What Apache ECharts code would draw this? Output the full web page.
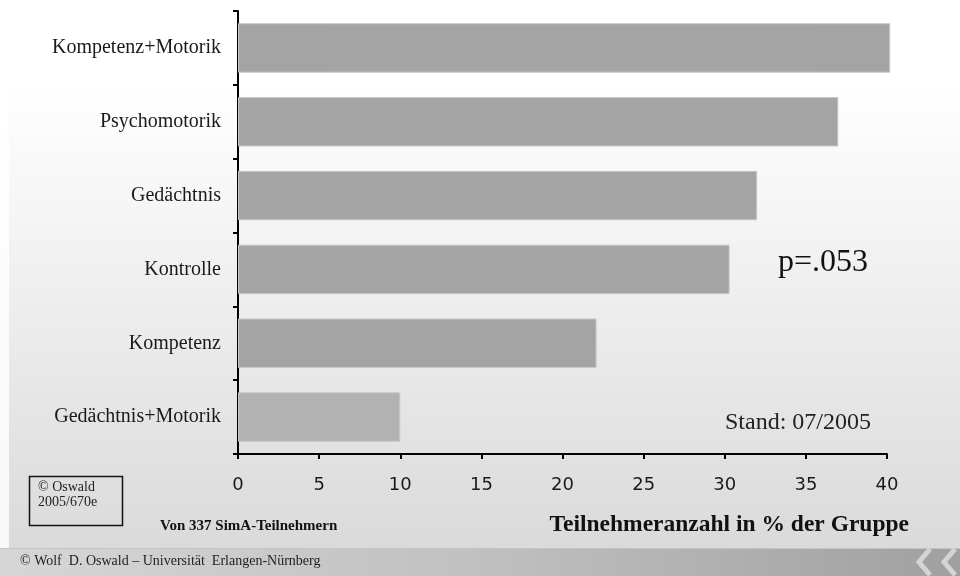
<!DOCTYPE html>
<html>
<head>
<meta charset="utf-8">
<script src="https://cdn.jsdelivr.net/npm/echarts@6/dist/echarts.min.js"></script>
<style>
  html, body { margin: 0; padding: 0; background: #fff; }
  #chart { width: 960px; height: 576px; }
</style>
</head>
<body>
<div id="chart"></div>
<script>
// Study groups (top to bottom) and share of participants per group, in %
const groups = ['Kompetenz+Motorik', 'Psychomotorik', 'Gedächtnis', 'Kontrolle', 'Kompetenz', 'Gedächtnis+Motorik'];
const shares = [40.2, 37.0, 32.0, 30.3, 22.1, 10.0];
const barColors = ['#a4a4a4', '#a4a4a4', '#a4a4a4', '#a4a4a4', '#a4a4a4', '#b2b2b2'];
const xTicks = [0, 5, 10, 15, 20, 25, 30, 35, 40];

const serif = '"Liberation Serif", "DejaVu Serif", serif';

const chart = echarts.init(document.getElementById('chart'), null, { renderer: 'canvas' });

chart.setOption({
  animation: false,
  backgroundColor: {
    type: 'linear', x: 0, y: 0, x2: 0, y2: 1,
    colorStops: [
      { offset: 0, color: '#ffffff' },
      { offset: 0.15, color: '#ffffff' },
      { offset: 0.95, color: '#dadada' },
      { offset: 1, color: '#d6d6d6' }
    ]
  },
  grid: { left: 238, right: 73, top: 11, bottom: 122, containLabel: false },
  xAxis: {
    type: 'value',
    min: xTicks[0],
    max: xTicks[xTicks.length - 1],
    interval: 5,
    axisLine: { show: true, lineStyle: { color: '#000', width: 2 } },
    axisTick: { show: true, length: 5, lineStyle: { color: '#000', width: 2 } },
    splitLine: { show: false },
    axisLabel: { color: '#1a1a1a', fontFamily: '"DejaVu Sans", sans-serif', fontSize: 18, margin: 22 },
    name: 'Teilnehmeranzahl in % der Gruppe',
    nameLocation: 'end',
    nameGap: 0,
    nameTextStyle: {
      fontFamily: serif, fontWeight: 'bold', fontSize: 23.5, color: '#111',
      align: 'right', verticalAlign: 'top', padding: [59, -22, 0, 0]
    }
  },
  yAxis: {
    type: 'category',
    data: groups,
    inverse: true,
    axisLine: { show: true, lineStyle: { color: '#000', width: 2 } },
    axisTick: { show: true, length: 5, lineStyle: { color: '#000', width: 2 } },
    axisLabel: { color: '#1a1a1a', fontFamily: serif, fontSize: 20, margin: 17 }
  },
  series: [{
    type: 'bar',
    clip: false,
    data: shares.map((v, i) => ({ value: v, itemStyle: { color: barColors[i] } })),
    barCategoryGap: '33%',
    itemStyle: { borderColor: '#c8c8c8', borderWidth: 1 }
  }],
  graphic: [
    // left white margin strip
    { type: 'rect', left: 0, top: 0, shape: { width: 9, height: 548 }, style: { fill: 'rgba(255,255,255,0.8)' }, silent: true, z: -1 },
    // footer band
    {
      type: 'rect', left: 0, top: 548, shape: { width: 960, height: 28 },
      style: {
        fill: {
          type: 'linear', x: 0, y: 0, x2: 1, y2: 0,
          colorStops: [
            { offset: 0, color: '#d6d6d6' },
            { offset: 0.5, color: '#c0c0c0' },
            { offset: 1, color: '#a0a0a0' }
          ]
        }
      },
      silent: true
    },
    { type: 'rect', left: 0, top: 548, shape: { width: 960, height: 1 }, style: { fill: '#c4c4c4' }, silent: true },
    // footer chevrons
    { type: 'polyline', shape: { points: [[930, 549], [919, 562], [930, 575]] }, style: { stroke: '#d4d4d4', lineWidth: 5, fill: null }, silent: true },
    { type: 'polyline', shape: { points: [[955, 549], [944, 562], [955, 575]] }, style: { stroke: '#d4d4d4', lineWidth: 5, fill: null }, silent: true },
    {
      type: 'text', left: 20, top: 554,
      style: { text: '© Wolf  D. Oswald – Universität  Erlangen-Nürnberg', font: '14px ' + serif, fill: '#222' },
      silent: true
    },
    // p-value
    {
      type: 'text', left: 778, top: 247,
      style: { text: 'p=.053', font: '32px ' + serif, fill: '#111' },
      silent: true
    },
    // status date
    {
      type: 'text', left: 725, top: 411,
      style: { text: 'Stand: 07/2005', font: '24px ' + serif, fill: '#222' },
      silent: true
    },
    // copyright box
    {
      type: 'rect', left: 27, top: 474, shape: { width: 93, height: 49 },
      style: { fill: 'none', stroke: '#111', lineWidth: 1.5 }, silent: true
    },
    {
      type: 'text', left: 38, top: 480,
      style: { text: '© Oswald\n2005/670e', font: '14px ' + serif, fill: '#222', lineHeight: 15 },
      silent: true
    },
    // sample size note
    {
      type: 'text', left: 160, top: 519,
      style: { text: 'Von 337 SimA-Teilnehmern', font: 'bold 15px ' + serif, fill: '#111' },
      silent: true
    }
  ]
});
</script>
</body>
</html>
